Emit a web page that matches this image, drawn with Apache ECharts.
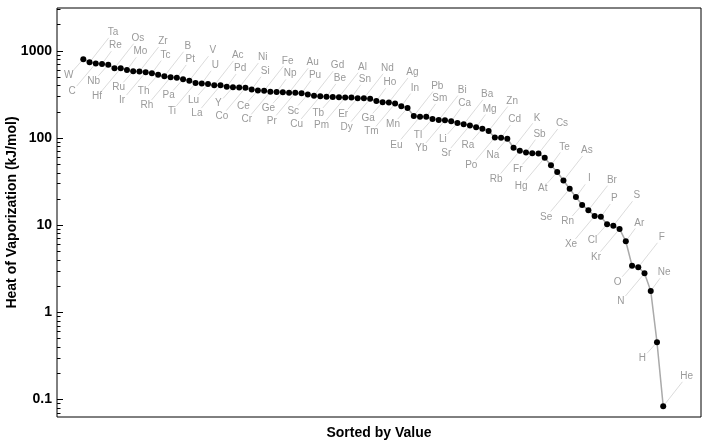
<!DOCTYPE html>
<html>
<head>
<meta charset="utf-8">
<script src="https://cdn.jsdelivr.net/npm/echarts@6/dist/echarts.min.js"></script>
<style>
  html, body { margin: 0; padding: 0; background: #fff; }
  #chart { width: 720px; height: 441px; }
</style>
</head>
<body>
<div id="chart"></div>
<script>
// Elements sorted by heat of vaporization (kJ/mol), descending
const elements = ["W","Ta","C","Re","Nb","Os","Hf","Mo","Ru","Zr","Ir","Tc","Th","B","Rh","Pt","Pa","V","Ti","U",
  "Lu","Ac","La","Pd","Y","Ni","Co","Si","Ce","Fe","Cr","Np","Ge","Au","Pr","Pu","Sc","Gd","Cu","Be",
  "Tb","Al","Pm","Sn","Er","Nd","Dy","Ho","Ga","Ag","Tm","In","Mn","Pb","Eu","Sm","Tl","Bi","Yb","Ca",
  "Li","Ba","Sr","Mg","Ra","Zn","Po","Cd","Na","K","Rb","Sb","Fr","Cs","Hg","Te","At","As","Se","I",
  "Rn","Br","Xe","P","Cl","S","Kr","Ar","O","F","N","Ne","H","He"];
const heats = [800,735,715,705,690,630,627,600,580,577,565,550,530,510,495,490,470,453,425,420,
  415,400,400,385,380,378,375,359,350,347,339,335,334,330,330,325,314,305,300,297,
  295,293,290,290,285,285,280,265,256,255,247,230,220,178,175,175,165,160,159,155,
  148,143,139,132,127,120,101,100,97.7,76.9,71,68,66.5,66,59.2,48.5,40.5,32.4,26,20.9,
  17,14.8,12.64,12.4,10.2,9.8,9.02,6.5,3.41,3.27,2.79,1.75,0.452,0.083];
const majorTicks = [0.1, 1, 10, 100, 1000];
const minorTicks = [0.07,0.08,0.09, 0.2,0.3,0.4,0.5,0.6,0.7,0.8,0.9, 2,3,4,5,6,7,8,9,
  20,30,40,50,60,70,80,90, 200,300,400,500,600,700,800,900, 2000,3000];

const XMIN = -3.218, XMAX = 100.06;
const YMIN = 0.0626, YMAX = 3090;
// label slot offsets (px), cycling with rank
const SLOTS = [[-14.5, 16.3], [23.5, -30], [-23.6, 28.1], [13.5, -18.4]];
const FONT = '"Liberation Sans", Arial, Helvetica, sans-serif';

const pts = heats.map((v, k) => [k + 1, v]);
const tickData = majorTicks.map(v => [XMIN, v, 6]).concat(minorTicks.map(v => [XMIN, v, 3.5]));

const chart = echarts.init(document.getElementById('chart'), null, { renderer: 'canvas' });
chart.setOption({
  animation: false,
  backgroundColor: '#fff',
  grid: { left: 57, right: 19, top: 8, bottom: 24, containLabel: false, outerBoundsMode: 'none',
    show: true, borderColor: '#000', borderWidth: 1, backgroundColor: 'transparent' },
  xAxis: {
    type: 'value', min: XMIN, max: XMAX,
    axisLine: { show: false }, axisTick: { show: false }, axisLabel: { show: false }, splitLine: { show: false },
    name: 'Sorted by Value', nameLocation: 'middle', nameGap: 9, nameMoveOverlap: false,
    nameTextStyle: { fontFamily: FONT, fontWeight: 'bold', fontSize: 14, color: '#000' }
  },
  yAxis: {
    type: 'log', min: YMIN, max: YMAX, logBase: 10,
    axisLine: { show: false }, axisTick: { show: false }, splitLine: { show: false },
    axisLabel: {
      fontFamily: FONT, fontWeight: 'bold', fontSize: 14, color: '#000', margin: 5,
      showMinLabel: false, showMaxLabel: false,
      formatter: function (v) {
        const l = Math.log10(v), e = Math.round(l);
        if (Math.abs(l - e) > 1e-6) return '';
        return e < 0 ? Math.pow(10, e).toFixed(-e) : String(Math.pow(10, e));
      }
    },
    name: 'Heat of Vaporization (kJ/mol)', nameLocation: 'middle', nameGap: 38, nameRotate: 90,
    nameMoveOverlap: false,
    nameTextStyle: { fontFamily: FONT, fontWeight: 'bold', fontSize: 14, color: '#000' }
  },
  series: [
    {
      type: 'custom', name: 'ticks', data: tickData, silent: true, clip: false, z: 5,
      renderItem: function (params, api) {
        const p = api.coord([api.value(0), api.value(1)]);
        const y = Math.round(p[1]) + 0.5;
        return { type: 'line', shape: { x1: p[0], y1: y, x2: p[0] + api.value(2), y2: y },
          style: { stroke: '#000', lineWidth: 1 } };
      }
    },
    {
      type: 'custom', name: 'callouts', data: pts, silent: true, clip: false, z: 1,
      renderItem: function (params, api) {
        const i = api.value(0), v = api.value(1);
        const p = api.coord([i, v]);
        const s = SLOTS[(i - 1) % 4];
        const len = Math.hypot(s[0], s[1]);
        const ux = s[0] / len, uy = s[1] / len;
        const lx = p[0] + s[0], ly = p[1] + s[1];
        return { type: 'group', children: [
          { type: 'line', shape: { x1: p[0] + ux * 3, y1: p[1] + uy * 3, x2: lx - ux * 7, y2: ly - uy * 7 },
            style: { stroke: '#d2d2d2', lineWidth: 0.8 } },
          { type: 'text', x: lx, y: ly,
            style: { text: elements[params.dataIndex], fill: '#9a9a9a', font: '10px ' + FONT,
              align: 'center', verticalAlign: 'middle' } }
        ] };
      }
    },
    {
      type: 'line', name: 'heat', data: pts, z: 3,
      symbol: 'circle', symbolSize: 6, showSymbol: true,
      itemStyle: { color: '#000' },
      lineStyle: { color: '#aaaaaa', width: 1.5 }
    }
  ]
});
</script>
</body>
</html>
